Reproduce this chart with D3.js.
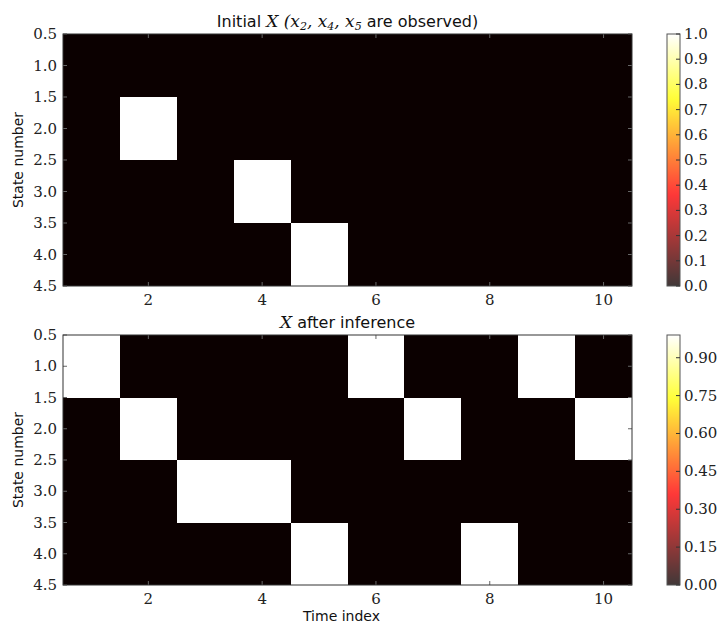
<!DOCTYPE html>
<html>
<head>
<meta charset="utf-8">
<script src="https://cdn.jsdelivr.net/npm/d3@7"></script>
<style>
  html, body { margin: 0; padding: 0; background: #fff; }
  svg { display: block; }
  .tick-lbl { font-family: "DejaVu Serif", serif; font-size: 15px; fill: #222; }
  .ttl { font-family: "DejaVu Sans", sans-serif; font-size: 16px; fill: #111; }
  .ax-lbl { font-family: "DejaVu Sans", sans-serif; font-size: 14px; fill: #111; }
</style>
</head>
<body>
<svg id="chart" width="722" height="626"></svg>
<script>
// Time steps and hidden states
const times = [1, 2, 3, 4, 5, 6, 7, 8, 9, 10];
const states = [1, 2, 3, 4];

// Initial X: one row per state, one column per time step (x2, x4, x5 observed)
const initialX = [
  [0, 0, 0, 0, 0, 0, 0, 0, 0, 0],
  [0, 1, 0, 0, 0, 0, 0, 0, 0, 0],
  [0, 0, 0, 1, 0, 0, 0, 0, 0, 0],
  [0, 0, 0, 0, 1, 0, 0, 0, 0, 0]
];

// X after inference
const inferredX = [
  [0.99, 0,    0,    0,    0,    0.99, 0,    0,    0.99, 0   ],
  [0,    0.99, 0,    0,    0,    0,    0.99, 0,    0,    0.99],
  [0,    0,    0.99, 0.99, 0,    0,    0,    0,    0,    0   ],
  [0,    0,    0,    0,    0.99, 0,    0,    0.99, 0,    0   ]
];

// Axis ticks
const xTicks = [2, 4, 6, 8, 10];
const yTicks = [0.5, 1.0, 1.5, 2.0, 2.5, 3.0, 3.5, 4.0, 4.5];
const cbarTicksTop = [0.0, 0.1, 0.2, 0.3, 0.4, 0.5, 0.6, 0.7, 0.8, 0.9, 1.0];
const cbarTicksBottom = [0.00, 0.15, 0.30, 0.45, 0.60, 0.75, 0.90];

// matplotlib "hot" colormap
function hot(t) {
  t = Math.max(0, Math.min(1, t));
  const r = Math.min(1, 0.0416 + t * (1 - 0.0416) / 0.365079);
  const g = Math.max(0, Math.min(1, (t - 0.365079) / (0.746032 - 0.365079)));
  const b = Math.max(0, Math.min(1, (t - 0.746032) / (1 - 0.746032)));
  return d3.rgb(r * 255, g * 255, b * 255).toString();
}

const svg = d3.select("#chart");
const defs = svg.append("defs");

// vertical gradient for the colorbars (bottom = 0, top = 1)
const grad = defs.append("linearGradient").attr("id", "hotGrad")
  .attr("x1", 0).attr("y1", 1).attr("x2", 0).attr("y2", 0);
d3.range(0, 1.0001, 0.02).forEach(t => {
  grad.append("stop").attr("offset", t).attr("stop-color", hot(t));
});

function panel(cfg) {
  const { top, bottom, data, vmax, cbarTicks, cbarFmt, titleNodes, xLabel } = cfg;
  const left = 63, right = 632;
  const x = d3.scaleLinear().domain([0.5, 10.5]).range([left, right]);
  const y = d3.scaleLinear().domain([0.5, 4.5]).range([top, bottom]);
  const g = svg.append("g");

  // cells
  const cells = g.append("g").attr("shape-rendering", "crispEdges");
  states.forEach((s, i) => {
    times.forEach((t, j) => {
      cells.append("rect")
        .attr("x", x(t - 0.5)).attr("y", y(s - 0.5))
        .attr("width", x(t + 0.5) - x(t - 0.5))
        .attr("height", y(s + 0.5) - y(s - 0.5))
        .attr("fill", hot(data[i][j] / vmax));
    });
  });

  // inward ticks on all four sides
  const tl = 4, tc = "#666";
  xTicks.forEach(t => {
    g.append("line").attr("x1", x(t)).attr("x2", x(t)).attr("y1", bottom).attr("y2", bottom - tl).attr("stroke", tc);
    g.append("line").attr("x1", x(t)).attr("x2", x(t)).attr("y1", top).attr("y2", top + tl).attr("stroke", tc);
  });
  yTicks.forEach(v => {
    g.append("line").attr("x1", left).attr("x2", left + tl).attr("y1", y(v)).attr("y2", y(v)).attr("stroke", tc);
    g.append("line").attr("x1", right).attr("x2", right - tl).attr("y1", y(v)).attr("y2", y(v)).attr("stroke", tc);
  });

  g.append("rect").attr("x", left).attr("y", top).attr("width", right - left).attr("height", bottom - top)
    .attr("fill", "none").attr("stroke", "#333").attr("stroke-width", 1);

  // tick labels
  xTicks.forEach(t => {
    g.append("text").attr("class", "tick-lbl").attr("x", x(t)).attr("y", bottom + 19)
      .attr("text-anchor", "middle").text(t);
  });
  yTicks.forEach(v => {
    g.append("text").attr("class", "tick-lbl").attr("x", left - 6).attr("y", y(v) + 5)
      .attr("text-anchor", "end").text(v.toFixed(1));
  });

  // axis labels
  g.append("text").attr("class", "ax-lbl")
    .attr("transform", `translate(23,${(top + bottom) / 2}) rotate(-90)`)
    .attr("text-anchor", "middle").text("State number");
  if (xLabel) {
    g.append("text").attr("class", "ax-lbl").attr("x", (left + right) / 2 - 6).attr("y", bottom + 36)
      .attr("text-anchor", "middle").text(xLabel);
  }

  // title
  const title = g.append("text").attr("class", "ttl").attr("x", (left + right) / 2).attr("y", top - 7)
    .attr("text-anchor", "middle");
  titleNodes.forEach(n => {
    const ts = title.append("tspan").text(n.text);
    if (n.math) ts.attr("font-family", "DejaVu Serif, serif").attr("font-style", "italic").attr("font-size", "17px");
    if (n.sub) ts.attr("font-size", "11px").attr("baseline-shift", "-3");
  });

  // colorbar
  const cbL = 667, cbW = 13;
  const c = d3.scaleLinear().domain([0, vmax]).range([bottom, top]);
  g.append("rect").attr("x", cbL).attr("y", top).attr("width", cbW).attr("height", bottom - top)
    .attr("fill", "url(#hotGrad)").attr("fill-opacity", 0.78);
  g.append("rect").attr("x", cbL).attr("y", top).attr("width", cbW).attr("height", bottom - top)
    .attr("fill", "none").attr("stroke", "#555").attr("stroke-width", 1);
  cbarTicks.forEach(v => {
    g.append("line").attr("x1", cbL + cbW).attr("x2", cbL + cbW - 4).attr("y1", c(v)).attr("y2", c(v))
      .attr("stroke", "#333");
    g.append("text").attr("class", "tick-lbl").attr("x", cbL + cbW + 4).attr("y", c(v) + 5)
      .text(cbarFmt(v));
  });
}

panel({
  top: 34, bottom: 286, data: initialX, vmax: 1.0,
  cbarTicks: cbarTicksTop, cbarFmt: d3.format(".1f"),
  titleNodes: [
    { text: "Initial " }, { text: "X", math: true }, { text: " (", math: true },
    { text: "x", math: true }, { text: "2", math: true, sub: true }, { text: ", x", math: true },
    { text: "4", math: true, sub: true }, { text: ", x", math: true }, { text: "5", math: true, sub: true },
    { text: " are observed)" }
  ]
});

panel({
  top: 335, bottom: 585, data: inferredX, vmax: 0.99,
  cbarTicks: cbarTicksBottom, cbarFmt: d3.format(".2f"),
  titleNodes: [{ text: "X", math: true }, { text: " after inference" }],
  xLabel: "Time index"
});
</script>
</body>
</html>
